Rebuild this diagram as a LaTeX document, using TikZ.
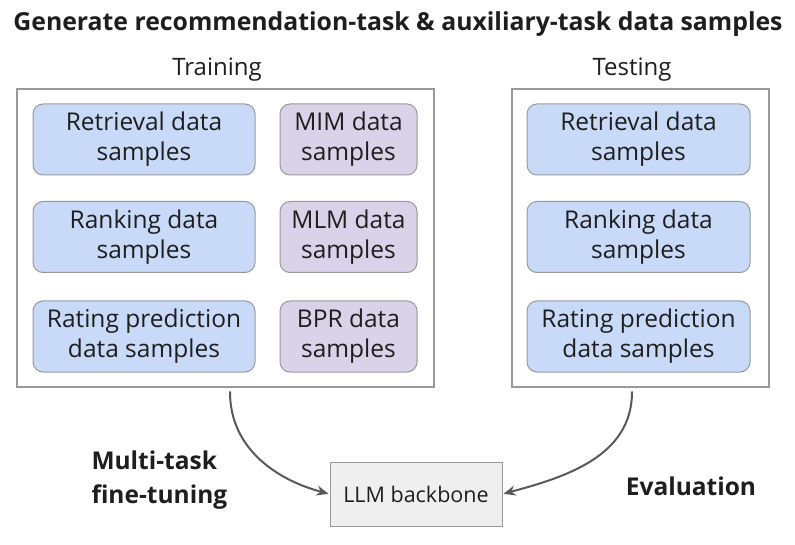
\documentclass[tikz,border=0pt]{standalone}
\usepackage{fontspec}
\setmainfont{Open Sans}
\usetikzlibrary{arrows.meta,positioning}
\definecolor{sampleblue}{RGB}{201,218,248}
\definecolor{samplepurple}{RGB}{217,210,233}
\definecolor{backbonegray}{RGB}{239,239,239}
\definecolor{edgegray}{RGB}{153,153,153}
\definecolor{arrowgray}{RGB}{89,89,89}
\definecolor{textdark}{RGB}{30,30,30}

\begin{document}
\begin{tikzpicture}[x=1pt,y=-1pt,>={Stealth[length=12pt,width=10pt]},line cap=round,
 every node/.style={text=textdark},
 sample/.style={draw=edgegray,line width=1pt,rounded corners=10pt,minimum height=71pt,
  inner sep=0pt,align=center,font=\fontsize{24.5}{30}\selectfont},
 rec/.style={sample,fill=sampleblue},
 aux/.style={sample,fill=samplepurple},
 frame/.style={draw=edgegray,line width=1.3pt,minimum height=298pt,inner sep=0pt},
 flow/.style={->,arrowgray,line width=2pt,shorten >=1pt}]
\useasboundingbox (0,0) rectangle (795,545);
% headings
\node[font=\bfseries\fontsize{24.8}{28}\selectfont] (title) at (398,24)
 {Generate recommendation-task \& auxiliary-task data samples};
\node[font=\fontsize{24}{28}\selectfont] (trainlbl) at (217,70) {Training};
\node[font=\fontsize{24}{28}\selectfont] (testlbl) at (632,70) {Testing};
% frames
\node[frame,minimum width=417pt] (train) at (225.5,238) {};
\node[frame,minimum width=257pt] (test) at (640.5,238) {};
% training samples
\node[rec,minimum width=222pt] (retr) at (144,139.5) {Retrieval data\\samples};
\node[rec,minimum width=222pt] (rank) at (144,237) {Ranking data\\samples};
\node[rec,minimum width=222pt] (rate) at (144,336.5) {Rating prediction\\data samples};
\node[aux,minimum width=137pt] (mim) at (348.5,139.5) {MIM data\\samples};
\node[aux,minimum width=137pt] (mlm) at (348.5,237) {MLM data\\samples};
\node[aux,minimum width=137pt] (bpr) at (348.5,336.5) {BPR data\\samples};
% testing samples
\node[rec,minimum width=223pt] (tretr) at (638.5,139.5) {Retrieval data\\samples};
\node[rec,minimum width=223pt] (trank) at (638.5,237) {Ranking data\\samples};
\node[rec,minimum width=223pt] (trate) at (638.5,336.5) {Rating prediction\\data samples};
% backbone
\node[draw=edgegray,line width=1pt,fill=backbonegray,minimum width=172pt,minimum height=64pt,
 inner sep=0pt,font=\fontsize{21.5}{25}\selectfont] (llm) at (416,494) {LLM backbone};
\coordinate (trainout) at (230,392);
\coordinate (testout) at (632,392);
\draw[flow] (trainout) to[out=-90,in=165] (llm.west);
\draw[flow] (testout) to[out=-90,in=15] (llm.east);
\node[font=\bfseries\fontsize{24.5}{34}\selectfont,align=left,anchor=west] (mtft) at (88,480)
 {Multi-task\\fine-tuning};
\node[font=\bfseries\fontsize{24.5}{28}\selectfont] (eval) at (691,486) {Evaluation};
\end{tikzpicture}
\end{document}
